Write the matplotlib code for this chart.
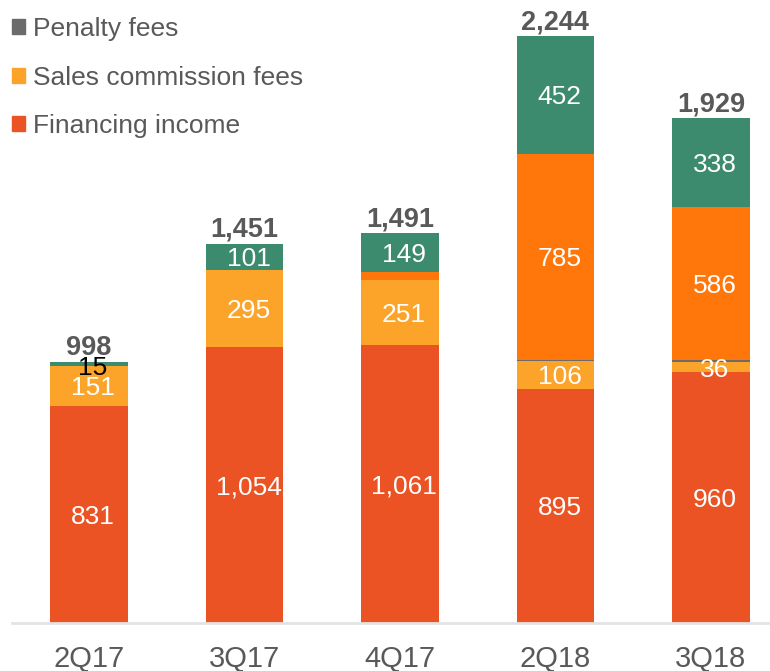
import numpy as np
import matplotlib.pyplot as plt
from matplotlib.patches import Patch

plt.rcParams['font.family'] = ['Liberation Sans', 'DejaVu Sans']

quarters = ['2Q17', '3Q17', '4Q17', '2Q18', '3Q18']
financing = [831, 1054, 1061, 895, 960]
sales_comm = [151, 295, 251, 106, 36]
penalty = [0, 0, 0, 6, 9]
other_orange = [0, 0, 30, 785, 586]
green = [15, 101, 149, 452, 338]
totals = [998, 1451, 1491, 2244, 1929]

c_fin = '#EB5324'
c_sales = '#FCA42A'
c_pen = '#6B6B6B'
c_orange = '#FF770A'
c_green = '#3D8B6F'
grey = '#595959'

fig = plt.figure(figsize=(7.7, 6.71), dpi=100)
ax = fig.add_axes([0.0156, 0.0715, 0.9844, 0.9285])

x = np.arange(len(quarters))
w = 0.5
series = [financing, sales_comm, penalty, other_orange, green]
colors = [c_fin, c_sales, c_pen, c_orange, c_green]
bottom = np.zeros(len(quarters))
for vals, col in zip(series, colors):
    ax.bar(x, vals, w, bottom=bottom, color=col, edgecolor='none')
    bottom += np.array(vals)

def fmt(v):
    return f'{v:,}'

fs = 19
dx = 0.026    # inner labels sit a bit right of centre
dy = 36       # half digit height, in data units

def inner(i, y, v, col='white'):
    ax.text(x[i] + dx, y - dy, fmt(v), ha='center', va='baseline',
            color=col, fontsize=fs)

for i in range(len(quarters)):
    inner(i, financing[i] / 2, financing[i])
    b = financing[i]
    inner(i, b + sales_comm[i] / 2, sales_comm[i])
    b += sales_comm[i] + penalty[i]
    if other_orange[i] >= 100:
        inner(i, b + other_orange[i] / 2, other_orange[i])
    b += other_orange[i]
    if green[i] >= 50:
        inner(i, b + green[i] / 2, green[i])
    else:
        inner(i, b + green[i] / 2 - 5, green[i], col='black')
    ax.text(x[i], totals[i] + 26, fmt(totals[i]), ha='center', va='baseline',
            color=grey, fontsize=19.5, fontweight='bold')

ax.set_xlim(-0.495, 4.38)
ax.set_ylim(0, 2381)
ax.set_xticks(x)
ax.set_xticklabels(quarters, fontsize=21, color=grey)
ax.tick_params(axis='x', length=0, pad=16)
ax.set_yticks([])
for s in ['top', 'right', 'left']:
    ax.spines[s].set_visible(False)
ax.spines['bottom'].set_color('#E3E3E3')
ax.spines['bottom'].set_linewidth(2)

handles = [Patch(color=c_pen), Patch(color=c_sales), Patch(color=c_fin)]
labels = ['Penalty fees', 'Sales commission fees', 'Financing income']
leg = fig.legend(handles, labels, loc='upper left', bbox_to_anchor=(0.0013, 0.99),
                 frameon=False, fontsize=19, handlelength=0.5, handleheight=0.5,
                 handletextpad=0.32, labelspacing=0.92, borderaxespad=0)
for t in leg.get_texts():
    t.set_color(grey)

fig.savefig('out.png', dpi=100)
